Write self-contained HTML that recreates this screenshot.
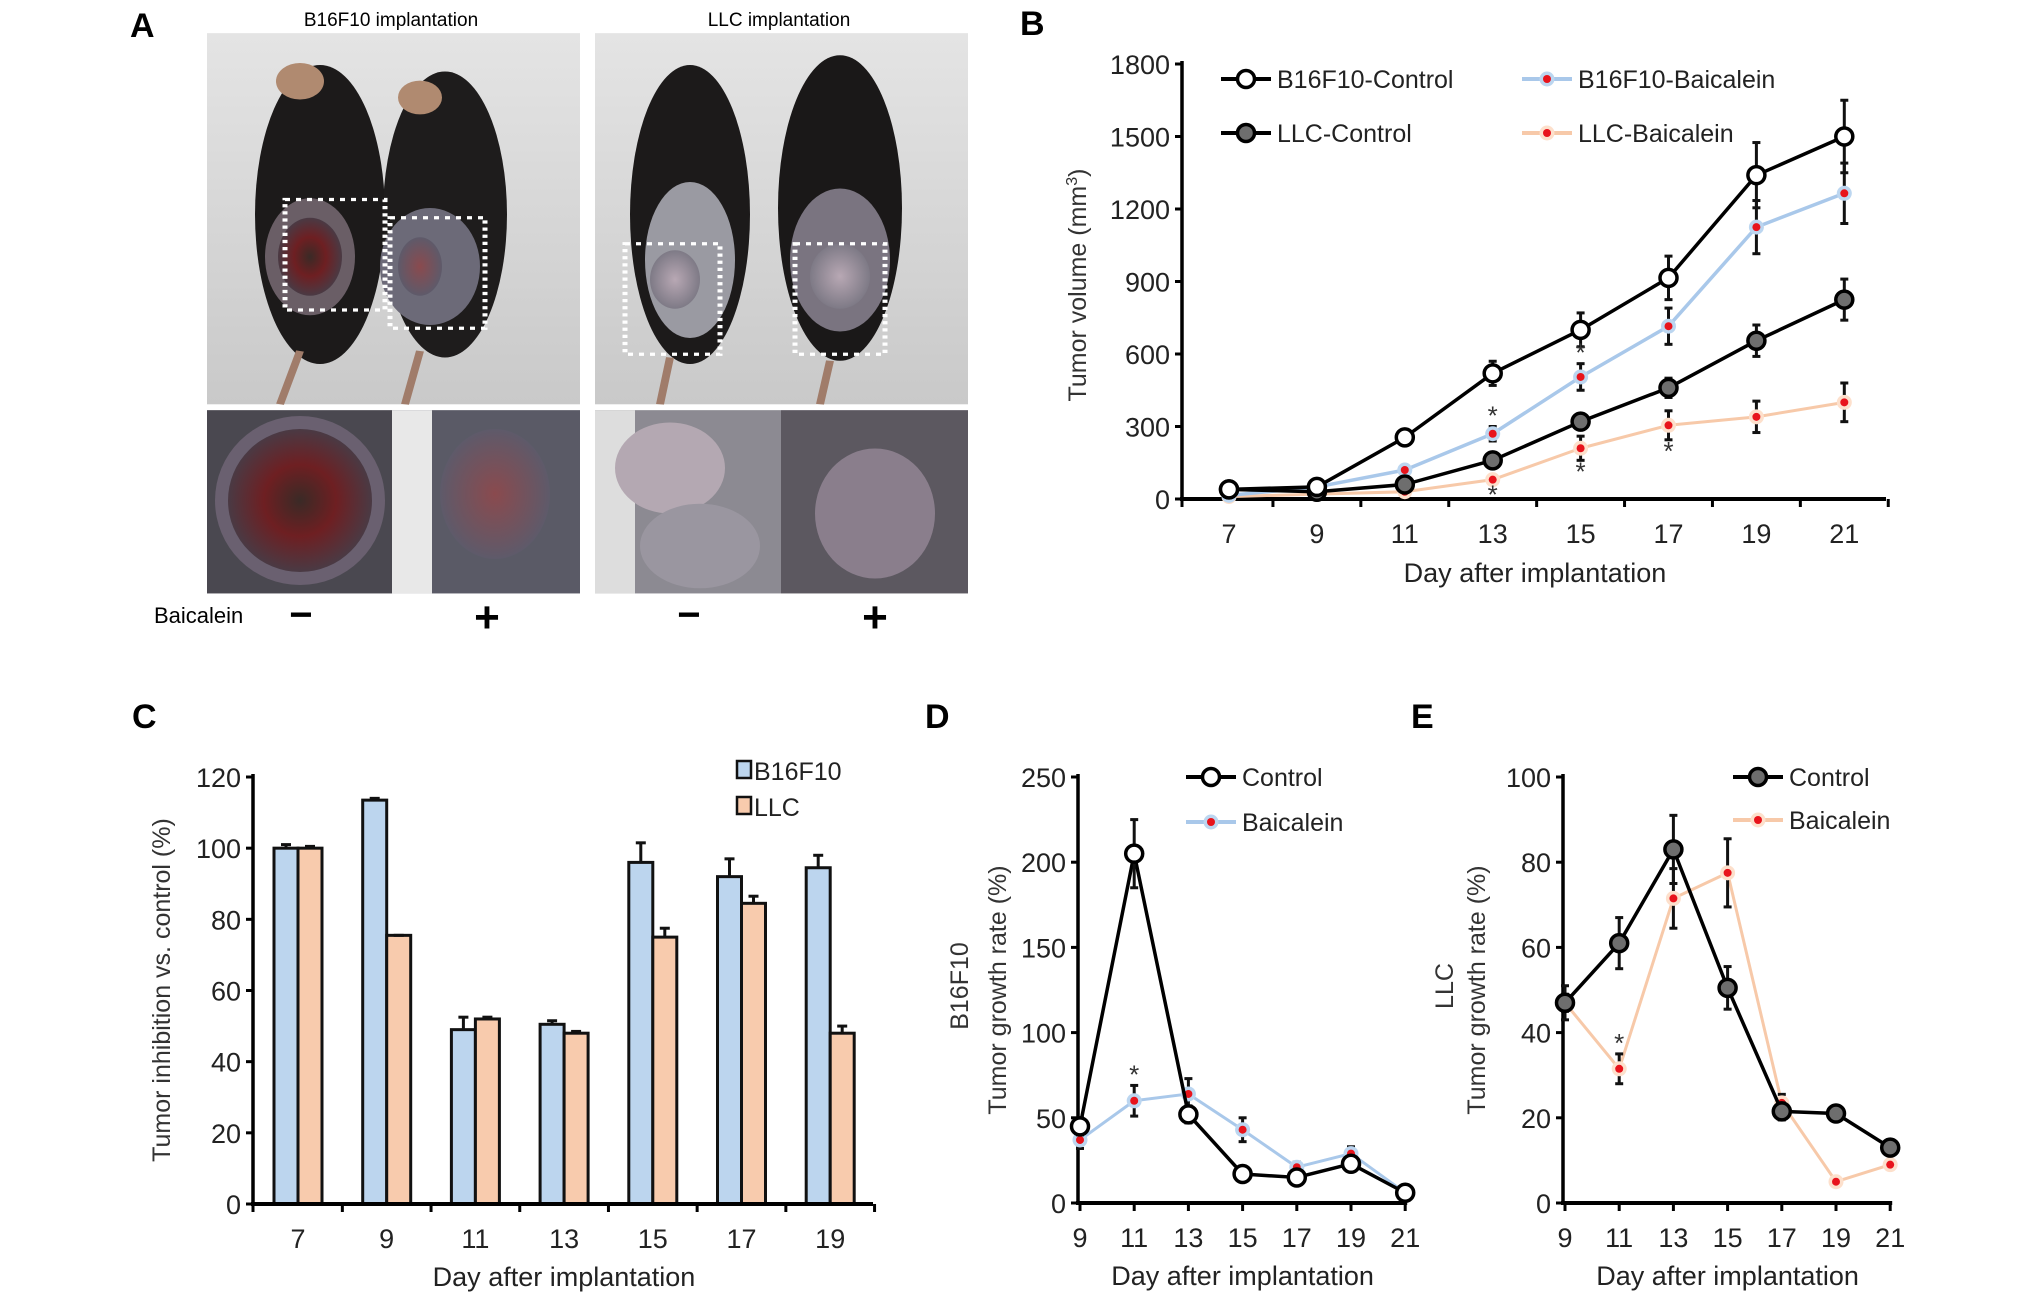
<!DOCTYPE html>
<html><head><meta charset="utf-8"><style>
html,body{margin:0;padding:0;background:#fff;overflow:hidden;}
svg{display:block;font-family:"Liberation Sans Narrow","Liberation Sans",sans-serif;}
.t{font-family:"Liberation Sans",sans-serif;}
</style></head><body>
<svg id="fig" width="2031" height="1299" viewBox="0 0 2031 1299" xmlns="http://www.w3.org/2000/svg">
<defs>
<linearGradient id="bgA" x1="0" y1="0" x2="0" y2="1"><stop offset="0" stop-color="#e4e4e4"/><stop offset="1" stop-color="#c9c9c9"/></linearGradient>
<radialGradient id="tum1"><stop offset="0" stop-color="#3a2a26"/><stop offset="0.5" stop-color="#6e1f22"/><stop offset="1" stop-color="#4a3a44"/></radialGradient>
<radialGradient id="tum2"><stop offset="0" stop-color="#8a4a4e"/><stop offset="1" stop-color="#5e5a6a"/></radialGradient>
<radialGradient id="llc1"><stop offset="0" stop-color="#b8a8b4"/><stop offset="1" stop-color="#7e7a86"/></radialGradient>
</defs>
<!-- Panel A -->
<g>
<text x="130" y="37" font-size="34" font-weight="bold" class="t">A</text>
<text x="391" y="26" font-size="19" text-anchor="middle">B16F10 implantation</text>
<text x="779" y="26" font-size="19" text-anchor="middle">LLC implantation</text>
<g transform="matrix(1,0,0,0.65,0,0)">
<g>
<rect x="207" y="51" width="373" height="571" fill="url(#bgA)"/>
<ellipse cx="320" cy="330" rx="65" ry="230" fill="#1c1a1a"/>
<ellipse cx="445" cy="330" rx="62" ry="220" fill="#1e1c1c"/>
<ellipse cx="300" cy="125" rx="24" ry="28" fill="#b08a70"/>
<ellipse cx="420" cy="150" rx="22" ry="26" fill="#b08a70"/>
<ellipse cx="310" cy="395" rx="45" ry="90" fill="#6a5e66"/>
<ellipse cx="310" cy="395" rx="32" ry="60" fill="url(#tum1)"/>
<ellipse cx="430" cy="410" rx="50" ry="90" fill="#6c6a78"/>
<ellipse cx="420" cy="410" rx="22" ry="45" fill="url(#tum2)"/>
<rect x="285" y="307" width="100" height="170" fill="none" stroke="#fff" stroke-width="5" stroke-dasharray="5 6"/>
<rect x="390" y="335" width="95" height="170" fill="none" stroke="#fff" stroke-width="5" stroke-dasharray="5 6"/>
<path d="M300 540 L280 622 M420 540 L405 622" stroke="#a07c6a" stroke-width="8"/>
</g>
<g>
<rect x="595" y="51" width="373" height="571" fill="url(#bgA)"/>
<ellipse cx="690" cy="330" rx="60" ry="230" fill="#1c1a1a"/>
<ellipse cx="840" cy="320" rx="62" ry="235" fill="#1a1818"/>
<ellipse cx="690" cy="400" rx="45" ry="120" fill="#9a9aa2"/>
<ellipse cx="840" cy="400" rx="50" ry="110" fill="#7a7480"/>
<ellipse cx="675" cy="430" rx="25" ry="45" fill="url(#llc1)"/>
<ellipse cx="840" cy="425" rx="30" ry="50" fill="url(#llc1)"/>
<rect x="625" y="375" width="95" height="170" fill="none" stroke="#fff" stroke-width="5" stroke-dasharray="5 6"/>
<rect x="795" y="375" width="90" height="170" fill="none" stroke="#fff" stroke-width="5" stroke-dasharray="5 6"/>
<path d="M670 550 L660 622 M830 555 L820 622" stroke="#a07c6a" stroke-width="8"/>
</g>
<g>
<rect x="207" y="631" width="185" height="282" fill="#4a4850"/>
<ellipse cx="300" cy="770" rx="85" ry="130" fill="#6a6070"/>
<ellipse cx="300" cy="770" rx="72" ry="110" fill="url(#tum1)"/>
</g>
<g>
<rect x="392" y="631" width="188" height="282" fill="#5a5a66"/>
<rect x="392" y="631" width="40" height="282" fill="#e8e8e8"/>
<ellipse cx="495" cy="760" rx="55" ry="100" fill="url(#tum2)"/>
</g>
<g>
<rect x="595" y="631" width="186" height="282" fill="#8c8a92"/>
<rect x="595" y="631" width="40" height="282" fill="#ddd"/>
<ellipse cx="670" cy="720" rx="55" ry="70" fill="#b4a8b2"/>
<ellipse cx="700" cy="840" rx="60" ry="65" fill="#9a96a0"/>
</g>
<g>
<rect x="781" y="631" width="187" height="282" fill="#5c5860"/>
<ellipse cx="875" cy="790" rx="60" ry="100" fill="#8a7e8c"/>
</g>
</g>
<text x="154" y="623" font-size="22">Baicalein</text>
<text x="301" y="628" font-size="40" font-weight="bold" text-anchor="middle">−</text>
<text x="487" y="632" font-size="44" font-weight="bold" text-anchor="middle">+</text>
<text x="689" y="628" font-size="40" font-weight="bold" text-anchor="middle">−</text>
<text x="875" y="632" font-size="44" font-weight="bold" text-anchor="middle">+</text>
</g>
<g id="charts"></g>
</svg>
<script>
// ---------- Panel B data ----------
const bDays = [7, 9, 11, 13, 15, 17, 19, 21];
const bTicks = [0, 300, 600, 900, 1200, 1500, 1800];
const b16Ctrl = [40, 50, 255, 520, 700, 915, 1340, 1500];
const b16CtrlErr = [10, 10, 15, 50, 70, 90, 135, 150];
const b16Baic = [15, 50, 120, 270, 505, 715, 1125, 1265];
const b16BaicErr = [5, 10, 15, 30, 55, 75, 110, 125];
const llcCtrl = [40, 30, 60, 160, 320, 460, 655, 825];
const llcCtrlErr = [8, 8, 10, 20, 25, 40, 65, 85];
const llcBaic = [10, 20, 30, 80, 210, 305, 340, 400];
const llcBaicErr = [5, 5, 8, 15, 50, 60, 65, 80];
// ---------- Panel C data ----------
const cDays = [7, 9, 11, 13, 15, 17, 19];
const cTicks = [0, 20, 40, 60, 80, 100, 120];
const cB16 = [100, 113.5, 49, 50.5, 96, 92, 94.5];
const cB16Err = [1, 0.5, 3.5, 1, 5.5, 5, 3.5];
const cLLC = [100, 75.5, 52, 48, 75, 84.5, 48];
const cLLCErr = [0.5, 0, 0.5, 0.5, 2.5, 2, 2];
// ---------- Panel D data ----------
const dDays = [9, 11, 13, 15, 17, 19, 21];
const dTicks = [0, 50, 100, 150, 200, 250];
const dCtrl = [45, 205, 52, 17, 15, 23, 6];
const dCtrlErr = [5, 20, 5, 2, 2, 3, 1];
const dBaic = [37, 60, 64, 43, 21, 29, 6];
const dBaicErr = [5, 9, 9, 7, 3, 4, 1];
// ---------- Panel E data ----------
const eDays = [9, 11, 13, 15, 17, 19, 21];
const eTicks = [0, 20, 40, 60, 80, 100];
const eCtrl = [47, 61, 83, 50.5, 21.5, 21, 13];
const eCtrlErr = [4, 6, 8, 5, 2, 1.5, 1];
const eBaic = [47, 31.5, 71.5, 77.5, 23.5, 5, 9];
const eBaicErr = [2, 3.5, 7, 8, 2, 0.5, 0.5];

const NS = "http://www.w3.org/2000/svg";
const root = document.getElementById('charts');
function mk(tag, attrs, parent) {
  const e = document.createElementNS(NS, tag);
  for (const k in attrs) e.setAttribute(k, attrs[k]);
  (parent || root).appendChild(e);
  return e;
}
function txt(s, attrs, parent) { const e = mk('text', attrs, parent); e.textContent = s; return e; }
const FS = 27;
function axes(g, x0, x1, y0, y1, ticks, yv, tickX, cats, xv) {
  const ya = mk('line', {x1: x0, y1: y1 - 3, x2: x0, y2: y0, stroke: '#000', 'stroke-width': 3.5}, g);
  
  
  const xa = mk('line', {x1: x0 - 2, y1: y0, x2: x1, y2: y0, stroke: '#000', 'stroke-width': 4}, g);
  
  
  ticks.forEach(t => {
    mk('line', {x1: x0 - 7, y1: yv(t), x2: x0, y2: yv(t), stroke: '#000', 'stroke-width': 3}, g);
    const l = txt(String(t), {x: x0 - 12, y: yv(t) + 10, 'font-size': FS, 'text-anchor': 'end', fill: '#222'}, g);
    
    
  });
  tickX.forEach(px => mk('line', {x1: px, y1: y0, x2: px, y2: y0 + 8, stroke: '#000', 'stroke-width': 3}, g));
  cats.forEach((c, i) => {
    const l = txt(String(c), {x: xv(i), y: y0 + 44, 'font-size': FS, 'text-anchor': 'middle', fill: '#222'}, g);
    
    
  });
}
function errbar(g, x, ya, yb, cap) {
  mk('line', {x1: x, y1: ya, x2: x, y2: yb, stroke: '#111', 'stroke-width': 3}, g);
  mk('line', {x1: x - cap, y1: ya, x2: x + cap, y2: ya, stroke: '#111', 'stroke-width': 3}, g);
  mk('line', {x1: x - cap, y1: yb, x2: x + cap, y2: yb, stroke: '#111', 'stroke-width': 3}, g);
}
function marker(g, x, y, type) {
  if (type === 'open') mk('circle', {cx: x, cy: y, r: 8.5, fill: '#fff', stroke: '#000', 'stroke-width': 3.5}, g);
  else if (type === 'gray') mk('circle', {cx: x, cy: y, r: 8.5, fill: '#6e6e6e', stroke: '#000', 'stroke-width': 3.5}, g);
  else {
    mk('circle', {cx: x, cy: y, r: 7.5, fill: type}, g);
    mk('circle', {cx: x, cy: y, r: 4, fill: '#e8141c'}, g);
  }
}
function series(g, name, vals, errs, xv, yv, color, lw, mtype) {
  const s = mk('g', {}, g);
  
  
  const pts = vals.map((v, i) => xv(i) + ',' + yv(v)).join(' ');
  const pl = mk('polyline', {points: pts, fill: 'none', stroke: color, 'stroke-width': lw, 'stroke-linejoin': 'round'}, s);
  
  
  vals.forEach((v, i) => {
    if (errs[i] > 0) errbar(s, xv(i), yv(v + errs[i]), yv(v - errs[i]), 4);
    marker(s, xv(i), yv(v), mtype);
  });
}
function legendLine(g, x, y, label, color, lw, mtype) {
  const e = mk('g', {}, g);
  
  
  mk('line', {x1: x, y1: y, x2: x + 50, y2: y, stroke: color, 'stroke-width': lw}, e);
  marker(e, x + 25, y, mtype);
  txt(label, {x: x + 56, y: y + 9, 'font-size': 25, fill: '#222'}, e);
}
function star(g, x, y) {
  const s = txt('*', {x: x, y: y, 'font-size': 26, 'text-anchor': 'middle', fill: '#333'}, g);
  
  
}

// ---------- Panel B ----------
(function () {
  const g = mk('g', {});
  
  
  const x0 = 1182, x1 = 1886, y0 = 499, yTop = 64, max = 1800;
  const yv = v => y0 - (v / max) * (y0 - yTop);
  const sp = 87.9, c0 = 1229;
  const xv = i => c0 + i * sp;
  const tickX = bDays.map((d, i) => c0 + (i + 0.5) * sp).concat([x0]);
  txt('B', {x: 1020, y: 35, 'font-size': 34, 'font-weight': 'bold', class: 't'}, g);
  axes(g, x0, x1, y0, yTop, bTicks, yv, tickX, bDays, xv);
  const yt = txt('Tumor volume (mm', {x: 0, y: 0, 'font-size': 25, 'text-anchor': 'middle', fill: '#333', class: 't', transform: 'translate(1086,285) rotate(-90)'}, g);
  const sup = mk('tspan', {dy: -9, 'font-size': 16}, yt); sup.textContent = '3';
  const cl = mk('tspan', {dy: 9}, yt); cl.textContent = ')';
  
  
  const xt = txt('Day after implantation', {x: 1535, y: 582, 'font-size': 27, 'text-anchor': 'middle', fill: '#222'}, g);
  
  
  series(g, 'llc-baicalein-series', llcBaic, llcBaicErr, xv, yv, '#f7c9a9', 3, '#fde0cc');
  series(g, 'b16f10-baicalein-series', b16Baic, b16BaicErr, xv, yv, '#a9c8ea', 3.5, '#bcd6f0');
  series(g, 'llc-control-series', llcCtrl, llcCtrlErr, xv, yv, '#000', 3.5, 'gray');
  series(g, 'b16f10-control-series', b16Ctrl, b16CtrlErr, xv, yv, '#000', 3.5, 'open');
  star(g, xv(3), yv(b16Baic[3] + b16BaicErr[3]) - 2);
  star(g, xv(3), yv(llcBaic[3] - llcBaicErr[3]) + 20);
  star(g, xv(4), yv(b16Baic[4] + b16BaicErr[4]) - 2);
  star(g, xv(4), yv(llcBaic[4] - llcBaicErr[4]) + 20);
  star(g, xv(5), yv(llcBaic[5] - llcBaicErr[5]) + 20);
  legendLine(g, 1221, 79, 'B16F10-Control', '#000', 4, 'open');
  legendLine(g, 1522, 79, 'B16F10-Baicalein', '#a9c8ea', 4, '#bcd6f0');
  legendLine(g, 1221, 133, 'LLC-Control', '#000', 4, 'gray');
  legendLine(g, 1522, 133, 'LLC-Baicalein', '#f7c9a9', 4, '#fde0cc');
})();

// ---------- Panel C ----------
(function () {
  const g = mk('g', {});
  
  
  const x0 = 253, x1 = 873, y0 = 1204, yTop = 777, max = 120;
  const yv = v => y0 - (v / max) * (y0 - yTop);
  const sp = 88.7, c0 = 298;
  const xv = i => c0 + i * sp;
  const tickX = cDays.map((d, i) => c0 + (i + 0.5) * sp).concat([x0]);
  txt('C', {x: 132, y: 728, 'font-size': 34, 'font-weight': 'bold', class: 't'}, g);
  const bw = 24;
  cDays.forEach((d, i) => {
    const b1 = mk('rect', {x: xv(i) - bw, y: yv(cB16[i]), width: bw, height: y0 - yv(cB16[i]), fill: '#bcd5ee', stroke: '#111', 'stroke-width': 3}, g);
    
    
    const b2 = mk('rect', {x: xv(i), y: yv(cLLC[i]), width: bw, height: y0 - yv(cLLC[i]), fill: '#f8cbad', stroke: '#111', 'stroke-width': 3}, g);
    
    
    const xa = xv(i) - bw / 2, xb = xv(i) + bw / 2;
    mk('line', {x1: xa, y1: yv(cB16[i]), x2: xa, y2: yv(cB16[i] + cB16Err[i]), stroke: '#111', 'stroke-width': 3}, g);
    mk('line', {x1: xa - 5, y1: yv(cB16[i] + cB16Err[i]), x2: xa + 5, y2: yv(cB16[i] + cB16Err[i]), stroke: '#111', 'stroke-width': 3}, g);
    mk('line', {x1: xb, y1: yv(cLLC[i]), x2: xb, y2: yv(cLLC[i] + cLLCErr[i]), stroke: '#111', 'stroke-width': 3}, g);
    mk('line', {x1: xb - 5, y1: yv(cLLC[i] + cLLCErr[i]), x2: xb + 5, y2: yv(cLLC[i] + cLLCErr[i]), stroke: '#111', 'stroke-width': 3}, g);
  });
  axes(g, x0, x1, y0, yTop, cTicks, yv, tickX, cDays, xv);
  const yt = txt('Tumor inhibition vs. control (%)', {x: 0, y: 0, 'font-size': 25, 'text-anchor': 'middle', fill: '#333', class: 't', transform: 'translate(170,990) rotate(-90)'}, g);
  
  
  const xt = txt('Day after implantation', {x: 564, y: 1286, 'font-size': 27, 'text-anchor': 'middle', fill: '#222'}, g);
  
  
  const l1 = mk('g', {}, g);
  
  
  mk('rect', {x: 737, y: 761, width: 14, height: 17, fill: '#bcd5ee', stroke: '#111', 'stroke-width': 2.5}, l1);
  txt('B16F10', {x: 754, y: 780, 'font-size': 25, fill: '#222'}, l1);
  const l2 = mk('g', {}, g);
  
  
  mk('rect', {x: 737, y: 797, width: 14, height: 17, fill: '#f8cbad', stroke: '#111', 'stroke-width': 2.5}, l2);
  txt('LLC', {x: 754, y: 816, 'font-size': 25, fill: '#222'}, l2);
})();

// ---------- Panels D & E ----------
function growthPanel(cfg) {
  const g = mk('g', {});
  
  
  const y0 = 1203, yTop = 777;
  const yv = v => y0 - (v / cfg.max) * (y0 - yTop);
  const xv = i => cfg.c0 + i * 54.2;
  const tickX = cfg.days.map((d, i) => cfg.c0 + i * 54.2);
  txt(cfg.letter, {x: cfg.lx, y: 728, 'font-size': 34, 'font-weight': 'bold', class: 't'}, g);
  axes(g, cfg.x0, cfg.c0 + 6 * 54.2 + 2, y0, yTop, cfg.ticks, yv, tickX, cfg.days, xv);
  const t1 = txt(cfg.ylab1, {x: 0, y: 0, 'font-size': 25, 'text-anchor': 'middle', fill: '#333', class: 't', transform: 'translate(' + cfg.ty1 + ',' + cfg.tc1 + ') rotate(-90)'}, g);
  
  
  const t2 = txt('Tumor growth rate (%)', {x: 0, y: 0, 'font-size': 25, 'text-anchor': 'middle', fill: '#333', class: 't', transform: 'translate(' + cfg.ty2 + ',990) rotate(-90)'}, g);
  
  
  const xt = txt('Day after implantation', {x: cfg.c0 + 3 * 54.2, y: 1285, 'font-size': 27, 'text-anchor': 'middle', fill: '#222'}, g);
  
  
  series(g, 'baicalein-series', cfg.baic, cfg.baicErr, xv, yv, cfg.bColor, 3, cfg.bHalo);
  series(g, 'control-series', cfg.ctrl, cfg.ctrlErr, xv, yv, '#000', 3.5, cfg.cType);
  star(g, xv(1), yv(cfg.baic[1] + cfg.baicErr[1]) - 2);
  legendLine(g, cfg.legX, 777, 'Control', '#000', 4, cfg.cType);
  legendLine(g, cfg.legX, cfg.leg2, 'Baicalein', cfg.bColor, 4, cfg.bHalo);
}
growthPanel({name: 'panel-d-b16f10-growth-chart', letter: 'D', lx: 925, x0: 1078, c0: 1080, max: 250,
  days: dDays, ticks: dTicks, ctrl: dCtrl, ctrlErr: dCtrlErr, baic: dBaic, baicErr: dBaicErr,
  bColor: '#a9c8ea', bHalo: '#bcd6f0', cType: 'open', ylab1: 'B16F10', ty1: 968, tc1: 986, ty2: 1006, legX: 1186, leg2: 822});
growthPanel({name: 'panel-e-llc-growth-chart', letter: 'E', lx: 1411, x0: 1563, c0: 1565, max: 100,
  days: eDays, ticks: eTicks, ctrl: eCtrl, ctrlErr: eCtrlErr, baic: eBaic, baicErr: eBaicErr,
  bColor: '#f7c9a9', bHalo: '#fde0cc', cType: 'gray', ylab1: 'LLC', ty1: 1453, tc1: 986, ty2: 1485, legX: 1733, leg2: 820});
</script>
</body></html>
